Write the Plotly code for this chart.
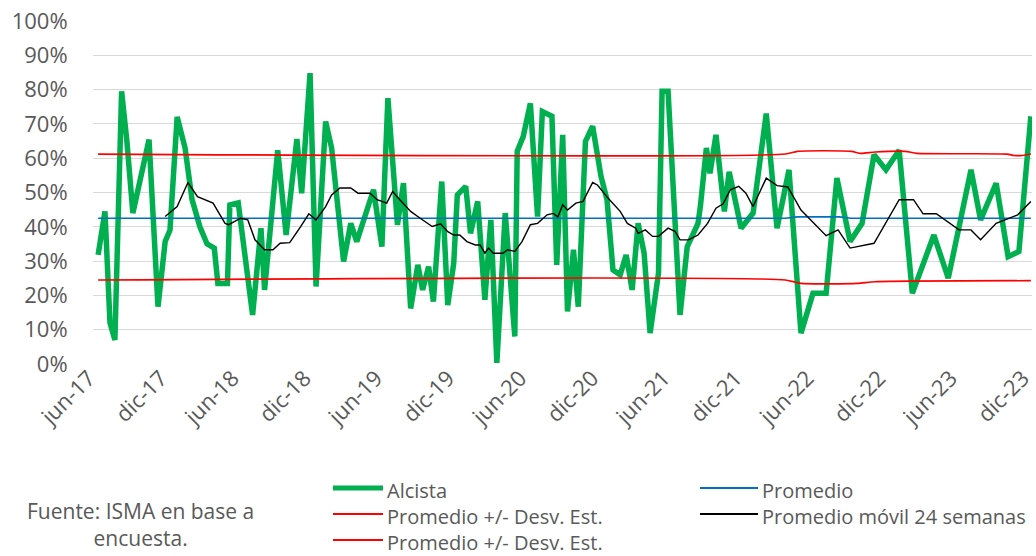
import pandas as pd
import plotly.graph_objects as go

# x values are months elapsed since the first survey (jun-2017)
alc_m = [0.1, 0.67, 1.09, 1.5, 2.06, 2.5, 3.0, 4.35, 5.1, 5.7, 6.1, 6.7, 7.36, 7.94, 8.6, 9.2, 9.8,
         10.1, 10.9, 11.1, 11.8, 13.0, 13.7, 14.0, 15.1, 15.8, 16.7, 17.1, 17.8, 18.3, 19.1, 19.6,
         20.6, 21.2, 21.7, 23.1, 23.8, 24.3, 25.1, 25.6, 26.2, 26.8, 27.2, 27.7, 28.1, 28.8, 29.3,
         29.8, 30.1, 30.8, 31.2, 31.8, 32.4, 32.9, 33.4, 34.1, 34.9, 35.1, 35.6, 36.2, 36.8, 37.2,
         38.0, 38.4, 38.9, 39.3, 39.8, 40.2, 40.8, 41.4, 42.1, 42.6, 43.1, 43.7, 44.2, 44.7, 45.2,
         45.7, 46.2, 46.9, 47.2, 47.7, 48.7, 49.3, 50.2, 50.4, 50.9, 51.2, 51.7, 52.4, 52.8, 53.8,
         54.8, 55.9, 56.8, 57.8, 58.8, 59.8, 60.9, 61.8, 62.9, 63.9, 64.9, 65.9, 67.0, 68.1, 69.9,
         71.1, 73.0, 73.8, 75.1, 76.1, 77.0, 78.0]
alc_v = [31.8, 44.5, 12, 7, 79.5, 65, 44, 65.4, 16.7, 35.7, 39, 72, 63, 48, 40, 35, 33.8,
         23.5, 23.5, 46.4, 47, 14.3, 39.6, 21.6, 62.3, 37.6, 65.6, 49.8, 84.8, 22.6, 70.7, 63,
         29.9, 41, 35.7, 50.8, 34.2, 77.5, 40.6, 52.7, 16.2, 28.9, 21.6, 28.4, 18.2, 53.2, 17.2,
         29.4, 49.3, 51.8, 38.1, 47.4, 18.7, 42, 0.3, 44, 8, 62, 66.3, 76, 43, 73.6,
         72.2, 28.9, 66.8, 15.3, 33.3, 16.7, 64.9, 69.3, 54.7, 47.9, 27.4, 26, 31.8, 21.6, 41,
         32.3, 9, 26.5, 79.5, 79.5, 14.3, 34.2, 41, 46, 63, 55.6, 66.8, 44.5, 56, 39.6,
         44, 73, 39.6, 56.6, 9, 20.6, 20.6, 54.2, 35.7, 41, 61, 56.6, 62.3, 20.6, 37.6,
         25, 56.6, 42, 52.7, 31.3, 32.8, 72.2]

mov_m = [5.7, 6.7, 7.6, 8.4, 9.7, 10.7, 11.0, 12.0, 12.6, 13.2, 14.0, 14.7, 15.3, 16.1, 17.0, 17.7,
         18.3, 19.1, 19.6, 20.3, 21.2, 21.8, 22.8, 23.4, 24.2, 24.7, 25.3, 26.2, 27.0, 28.0, 28.7,
         29.3, 29.8, 30.3, 30.9, 31.6, 32.0, 32.4, 32.7, 33.1, 33.9, 34.3, 34.9, 35.5, 36.2, 36.8,
         37.6, 38.1, 38.5, 38.9, 39.3, 40.0, 40.6, 41.4, 41.8, 42.7, 43.7, 44.3, 45.0, 45.2, 45.8,
         46.4, 46.9, 47.7, 48.3, 48.7, 49.4, 50.2, 51.0, 51.7, 52.3, 52.9, 53.6, 54.2, 54.8, 55.9,
         56.8, 57.7, 58.8, 60.9, 61.9, 62.9, 64.9, 67.0, 68.2, 69.0, 70.1, 72.0, 73.0, 73.8, 75.1,
         76.9, 78.0]
mov_v = [43, 45.9, 52.9, 48.8, 46.9, 41, 40.6, 42.5, 42, 36.2, 33.3, 33.3, 35.2, 35.4, 40, 43.8,
         42, 45.9, 49.3, 51.3, 51.3, 49.8, 49.8, 47.9, 46.9, 50.3, 47.9, 44.5, 42.5, 40.1, 40.9,
         38.6, 37.6, 37.6, 35.7, 34.7, 34.7, 32.3, 33.8, 32.3, 32.3, 33.3, 32.8, 35.7, 40.6, 41,
         43.5, 43.9, 42.9, 46.4, 44.9, 46.9, 47.4, 52.9, 52.2, 48.3, 44.5, 41, 39.6, 38.1, 39.1,
         37.2, 37.2, 39.6, 38.6, 36.2, 36.2, 37.6, 41, 45.4, 46.7, 50.8, 51.8, 49.8, 45.9, 54.2,
         52, 51.6, 44.9, 37.4, 39.1, 33.8, 35.2, 47.9, 47.9, 43.8, 43.8, 39.1, 39.1, 36.2, 41,
         43.5, 47.4]

prom_m = [0.1, 57.5, 58.5, 62.0, 63.0, 78.0]
prom_v = [42.5, 42.5, 42.9, 42.9, 42.5, 42.5]
sup_m = [0.1, 57.5, 58.5, 63.0, 63.8, 65.0, 67.5, 68.5, 76.0, 76.6, 77.3, 78.0]
sup_v = [61.2, 61.2, 62.0, 62.0, 61.4, 61.8, 62.0, 61.4, 61.2, 60.8, 60.8, 61.2]
inf_m = [0.1, 57.5, 58.8, 63.5, 65.0, 78.0]
inf_v = [24.5, 24.5, 23.5, 23.5, 24.0, 24.3]

tick_labels = ["jun-17", "dic-17", "jun-18", "dic-18", "jun-19", "dic-19", "jun-20",
               "dic-20", "jun-21", "dic-21", "jun-22", "dic-22", "jun-23", "dic-23"]

series_names = ["Alcista", "Promedio", "Promedio +/- Desv. Est.", "Promedio móvil 24 semanas"]
source_text = "Fuente: ISMA en base a<br>encuesta."

start = pd.Timestamp("2017-06-16")


def to_dates(months):
    return [start + pd.Timedelta(days=m * 30.4375) for m in months]


tick_dates = [start + pd.DateOffset(months=6 * i) for i in range(len(tick_labels))]

GRAY = "#595959"
FONT = "Open Sans"
GREEN, BLUE, RED, BLACK = "#00B050", "#0070C0", "#FF0000", "#000000"

# plot area in pixels
L, R, T, B = 93, 1032, 21, 364
W, H = 1036, 556


def px(x):
    return (x - L) / (R - L)


def py(y):
    return (B - y) / (B - T)


fig = go.Figure()
fig.add_trace(go.Scatter(x=to_dates(alc_m), y=alc_v, mode="lines", name=series_names[0],
                         line=dict(color=GREEN, width=5.5)))
fig.add_trace(go.Scatter(x=to_dates(prom_m), y=prom_v, mode="lines", name=series_names[1],
                         line=dict(color=BLUE, width=1.6)))
fig.add_trace(go.Scatter(x=to_dates(sup_m), y=sup_v, mode="lines", name=series_names[2],
                         line=dict(color=RED, width=1.6, shape="spline", smoothing=0.6)))
fig.add_trace(go.Scatter(x=to_dates(mov_m), y=mov_v, mode="lines", name=series_names[3],
                         line=dict(color=BLACK, width=1.4)))
fig.add_trace(go.Scatter(x=to_dates(inf_m), y=inf_v, mode="lines", name=series_names[2],
                         line=dict(color=RED, width=1.6, shape="spline", smoothing=0.6)))

fig.update_layout(
    width=W, height=H,
    margin=dict(l=L, r=W - R, t=T, b=H - B, autoexpand=False),
    paper_bgcolor="white", plot_bgcolor="white",
    font=dict(family=FONT, color=GRAY, size=20),
    showlegend=False,
    xaxis=dict(type="date",
               range=[start - pd.Timedelta(days=10), tick_dates[-1] + pd.Timedelta(days=3)],
               tickvals=tick_dates, ticktext=tick_labels, tickangle=-45,
               ticklabeloverflow="allow", ticklabelshift=-8,
               showgrid=False, zeroline=False, showline=False,
               ticks="", ticklabelstandoff=-4,
               tickfont=dict(size=22, color=GRAY, family=FONT)),
    yaxis=dict(range=[0, 100], dtick=10, ticksuffix="%", showgrid=True,
               gridcolor="#D9D9D9", gridwidth=1, zeroline=False, showline=False,
               ticks="outside", ticklen=20, tickcolor="rgba(0,0,0,0)",
               tickfont=dict(size=22, color=GRAY, family=FONT)),
)

# legend drawn by hand (two columns, like the original); each column is one text block
ROW0, STEP = 488, 26
columns = [
    (333, 383, [(GREEN, 5, series_names[0]), (RED, 1.8, series_names[2]),
                (RED, 1.8, series_names[2])]),
    (700, 758, [(BLUE, 1.8, series_names[1]), (BLACK, 1.8, series_names[3])]),
]
for x0, x1, items in columns:
    for i, (col, wd, _) in enumerate(items):
        yy = ROW0 + i * STEP
        fig.add_shape(type="line", xref="paper", yref="paper", x0=px(x0), x1=px(x1),
                      y0=py(yy), y1=py(yy), line=dict(color=col, width=wd))
    fig.add_annotation(text="<br>".join(lbl for _, _, lbl in items), xref="paper", yref="paper",
                       x=px(x1 + 2), y=py(ROW0 - STEP / 2), xanchor="left", yanchor="top",
                       align="left", showarrow=False,
                       font=dict(size=20, color=GRAY, family=FONT))

fig.add_annotation(text=source_text, xref="paper", yref="paper",
                   x=px(140), y=py(495), xanchor="center", yanchor="top", align="center",
                   showarrow=False, font=dict(size=21, color=GRAY, family=FONT))

fig.write_html("out.html", config={"displayModeBar": False},
               post_script="document.body.style.margin='0';")
